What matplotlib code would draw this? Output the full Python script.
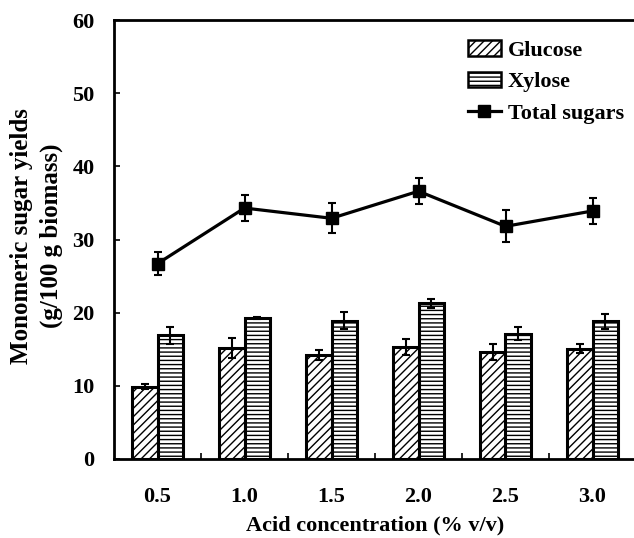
import matplotlib
matplotlib.use("Agg")
import matplotlib.pyplot as plt
import numpy as np
from matplotlib.patches import Patch
from matplotlib.lines import Line2D

# %%
conc_labels = ["0.5", "1.0", "1.5", "2.0", "2.5", "3.0"]
glucose = [9.9, 15.2, 14.2, 15.3, 14.6, 15.1]
glucose_err = [0.3, 1.4, 0.7, 1.05, 1.05, 0.65]
xylose = [16.9, 19.3, 18.9, 21.3, 17.1, 18.8]
xylose_err = [1.15, 0.15, 1.2, 0.6, 0.9, 1.0]
total = [26.7, 34.3, 32.9, 36.6, 31.8, 33.9]
total_err = [1.6, 1.75, 2.05, 1.75, 2.2, 1.75]

plt.rcParams["font.family"] = "Liberation Serif"
plt.rcParams["font.weight"] = "bold"
plt.rcParams["hatch.linewidth"] = 1.0

fig = plt.figure(figsize=(6.34, 5.38), dpi=100)
ax = fig.add_axes([114 / 634, 1 - 459 / 538, 522 / 634, 439 / 538])

x = np.arange(len(conc_labels))
w = 0.29
err_kw = dict(elinewidth=1.5, capsize=3, capthick=1.5, ecolor="black")
ax.bar(x - w / 2, glucose, w, yerr=glucose_err, color="white", edgecolor="black",
       linewidth=2.2, hatch="////", error_kw=err_kw, zorder=2)
ax.bar(x + w / 2, xylose, w, yerr=xylose_err, color="white", edgecolor="black",
       linewidth=2.2, hatch="----", error_kw=err_kw, zorder=2)
ax.errorbar(x, total, yerr=total_err, color="black", linewidth=2.3, marker="s",
            markersize=8.5, elinewidth=1.5, capsize=3, capthick=1.5, zorder=3)

ax.set_xlim(-0.5, 5.5)
ax.set_ylim(0, 60)
ax.set_yticks(range(0, 61, 10))
ax.tick_params(axis="y", direction="in", length=4, width=1.2, labelsize=16, pad=14)
ax.set_xticks(x + 0.5)
ax.set_xticklabels([])
ax.set_xticks(x, minor=True)
ax.set_xticklabels(conc_labels, minor=True)
ax.tick_params(axis="x", which="major", direction="in", length=4, width=1.2)
ax.tick_params(axis="x", which="minor", length=0, labelsize=16, pad=20)
for s in ax.spines.values():
    s.set_linewidth(2)
ax.spines["right"].set_visible(False)

ax.set_xlabel("Acid concentration (% v/v)", fontsize=16, fontweight="bold", labelpad=6)
# two-line y label placed by hand
fig.text(22 / 634, 1 - 236 / 538, "Monomeric sugar yields", rotation=90,
         ha="center", va="center", fontsize=18, fontweight="bold")
fig.text(51 / 634, 1 - 236 / 538, "(g/100 g biomass)", rotation=90,
         ha="center", va="center", fontsize=18, fontweight="bold")

handles = [
    Patch(facecolor="white", edgecolor="black", hatch="////", linewidth=1.8),
    Patch(facecolor="white", edgecolor="black", hatch="----", linewidth=1.8),
    Line2D([], [], color="black", linewidth=2.3, marker="s", markersize=8),
]
ax.legend(handles, ["Glucose", "Xylose", "Total sugars"], loc="upper right",
          bbox_to_anchor=(1.015, 1.0), frameon=False, fontsize=16,
          handlelength=1.5, handletextpad=0.3, labelspacing=0.5)

fig.savefig("out.png", dpi=100)
